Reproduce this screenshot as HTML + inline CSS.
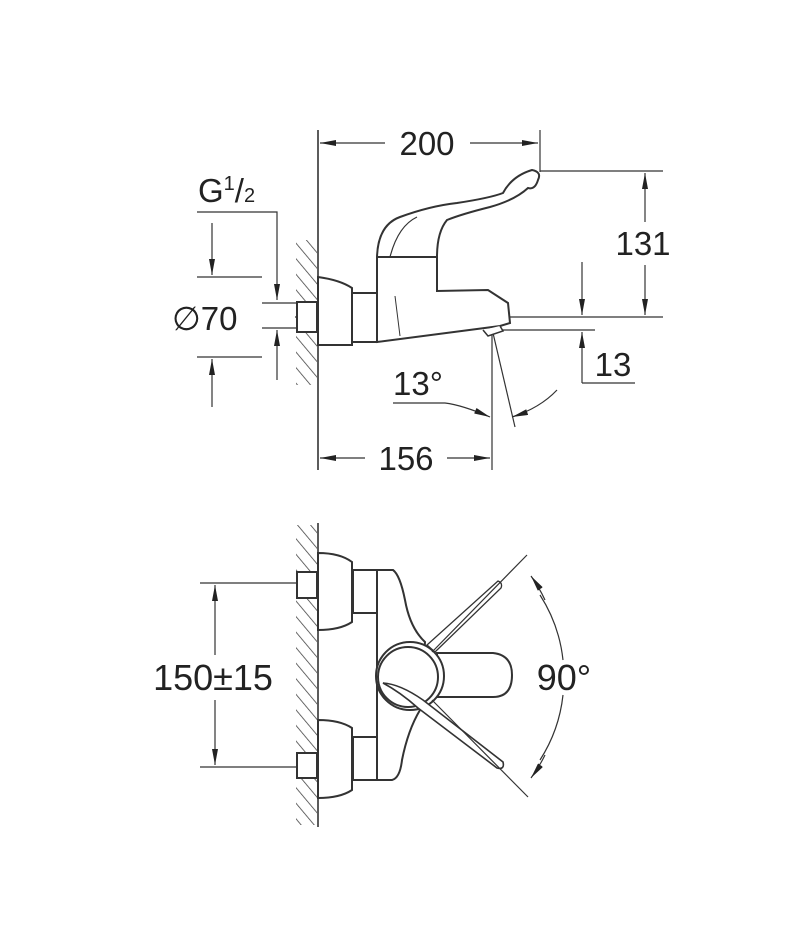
<!DOCTYPE html>
<html><head><meta charset="utf-8"><style>
html,body{margin:0;padding:0;background:#fff;}
svg{display:block;}
text{font-family:"Liberation Sans",sans-serif;fill:#222;}
</style></head><body>
<svg width="790" height="950" viewBox="0 0 790 950" xmlns="http://www.w3.org/2000/svg">
<defs>
<marker id="a" viewBox="0 0 16 6" refX="16" refY="3" markerWidth="16" markerHeight="6" markerUnits="userSpaceOnUse" orient="auto">
<path d="M0,0 L16,3 L0,6 Z" fill="#222"/></marker>
<pattern id="h" width="10" height="10" patternUnits="userSpaceOnUse" patternTransform="rotate(-40)">
<line x1="0" y1="0" x2="0" y2="10" stroke="#444" stroke-width="1.6"/></pattern>
</defs>
<g stroke="#333" stroke-width="1.2" fill="none">
<!-- TOP -->
<rect x="296" y="240" width="21" height="145" fill="url(#h)" stroke="none"/>
<line x1="318" y1="130" x2="318" y2="470" stroke-width="1.6"/>
<line x1="540" y1="130" x2="540" y2="172"/>
<line x1="385" y1="143" x2="320" y2="143" marker-end="url(#a)"/>
<line x1="470" y1="143" x2="538" y2="143" marker-end="url(#a)"/>
<line x1="540" y1="171" x2="663" y2="171"/>
<line x1="295" y1="317" x2="663" y2="317"/>
<line x1="645" y1="222" x2="645" y2="173" marker-end="url(#a)"/>
<line x1="645" y1="265" x2="645" y2="315" marker-end="url(#a)"/>
<line x1="490" y1="330" x2="595" y2="330"/>
<line x1="582" y1="262" x2="582" y2="315" marker-end="url(#a)"/>
<line x1="582" y1="383" x2="582" y2="332" marker-end="url(#a)"/>
<line x1="582" y1="383" x2="635" y2="383"/>
<line x1="492" y1="332" x2="492" y2="470"/>
<line x1="365" y1="458" x2="320" y2="458" marker-end="url(#a)"/>
<line x1="447" y1="458" x2="490" y2="458" marker-end="url(#a)"/>
<line x1="493" y1="333" x2="515" y2="427"/>
<path d="M393,403 L445,403 Q462,405 490,417" marker-end="url(#a)"/>
<path d="M557,390 Q540,408 512,417" marker-end="url(#a)"/>
<path d="M197,212 L277,212 L277,300" marker-end="url(#a)"/>
<line x1="262" y1="303" x2="296" y2="303"/>
<line x1="262" y1="328" x2="296" y2="328"/>
<line x1="277" y1="380" x2="277" y2="330" marker-end="url(#a)"/>
<line x1="197" y1="277" x2="262" y2="277"/>
<line x1="197" y1="357" x2="262" y2="357"/>
<line x1="212" y1="223" x2="212" y2="275" marker-end="url(#a)"/>
<line x1="212" y1="407" x2="212" y2="359" marker-end="url(#a)"/>
<g stroke-width="2" fill="#fff">
<rect x="297" y="302" width="20" height="30"/>
<path d="M318,277 Q340,280 352,288 L352,345 L318,345 Z"/>
<rect x="352" y="293" width="25" height="49"/>
<path d="M377,293 L377,257 Q378,225 400,217 Q430,206 457,203 Q490,198 503,193 Q512,176 532,170 Q542,172 538,180 Q535,190 528,188 Q515,200 490,207 Q462,214 447,220 Q437,232 437,257 L437,291 L488,290 L508,303 L510,323 L500,326 L377,342 Z"/>
</g>
<line x1="377" y1="257" x2="437" y2="257" stroke-width="2"/>
<path d="M390,257 Q398,226 417,217" stroke-width="1.2"/>
<path d="M395,296 L400,336" stroke-width="1"/>
<path d="M483,330 L488,336 L503,331 L500,326" stroke-width="1.5" fill="#fff"/>
<!-- BOTTOM -->
<rect x="296" y="525" width="21" height="300" fill="url(#h)" stroke="none"/>
<line x1="318" y1="523" x2="318" y2="827" stroke-width="1.6"/>
<line x1="200" y1="583" x2="297" y2="583"/>
<line x1="200" y1="767" x2="297" y2="767"/>
<line x1="215" y1="655" x2="215" y2="585" marker-end="url(#a)"/>
<line x1="215" y1="700" x2="215" y2="765" marker-end="url(#a)"/>
<g stroke-width="2" fill="#fff">
<rect x="297" y="572" width="20" height="26"/>
<rect x="297" y="753" width="20" height="25"/>
<path d="M318,553 Q340,553 352,562 L352,622 Q340,630 318,630 Z"/>
<path d="M318,720 Q340,720 352,728 L352,790 Q340,798 318,798 Z"/>
<rect x="353" y="570" width="24" height="43"/>
<rect x="353" y="737" width="24" height="43"/>
<path d="M377,570 L393,570 Q400,575 405,600 Q410,628 425,642 L420,710 Q408,730 402,760 Q400,778 392,780 L377,780 Z"/>
<path d="M427,645 L498,581 Q503,583 501,588 L435,652 Z" stroke-width="1.3"/>
<path d="M437,653 L493,653 Q512,655 512,675 Q512,697 493,697 L437,697 Z"/>
<circle cx="410" cy="676" r="34"/>
<circle cx="408" cy="677" r="30"/>
<path d="M383,683 Q400,684 423,700 L503,762 Q505,770 497,768 L418,708 Q400,692 383,683 Z" stroke-width="1.6"/>
</g>
<line x1="432" y1="652" x2="527" y2="555"/>
<line x1="432" y1="700" x2="528" y2="797"/>
<path d="M540,595 A150,150 0 0 1 563,660" />
<path d="M563,695 A150,150 0 0 1 540,760"/>
<path d="M545,600 A150,150 0 0 0 531,576" marker-end="url(#a)"/>
<path d="M545,755 A150,150 0 0 1 531,778" marker-end="url(#a)"/>
</g>
<g font-size="33">
<text x="427" y="155" text-anchor="middle">200</text>
<text x="643" y="255" text-anchor="middle">131</text>
<text x="613" y="376" text-anchor="middle">13</text>
<text x="406" y="470" text-anchor="middle">156</text>
<text x="393" y="395">13°</text>
<text x="198" y="202">G<tspan font-size="20" dy="-12">1</tspan><tspan dy="12">/</tspan><tspan font-size="20">2</tspan></text>
<text x="172" y="330">∅70</text>
</g>
<g font-size="36">
<text x="213" y="690" text-anchor="middle">150±15</text>
<text x="564" y="690" text-anchor="middle">90°</text>
</g>
</svg>
</body></html>
